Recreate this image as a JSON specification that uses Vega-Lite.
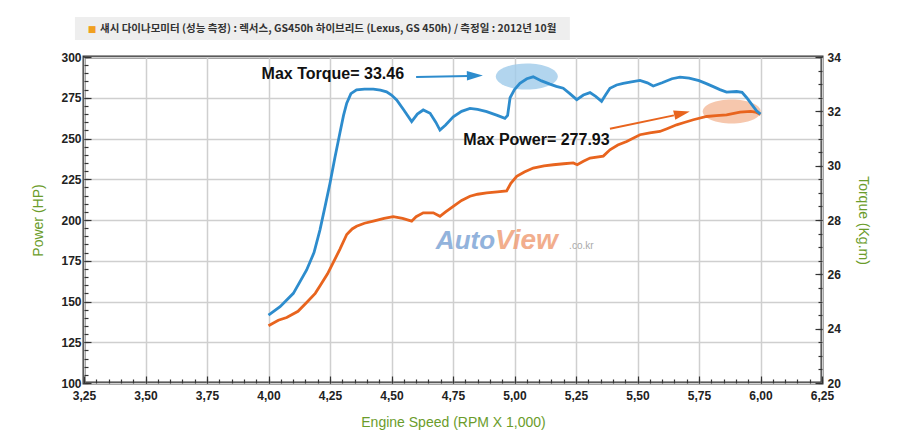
{
  "$schema": "https://vega.github.io/schema/vega-lite/v6.json",
  "autosize": "none",
  "width": 738,
  "height": 326,
  "padding": {"left": 84, "top": 57, "right": 78, "bottom": 53},
  "background": "white",
  "config": {
    "view": {"stroke": "#333333", "strokeWidth": 3},
    "axis": {
      "domain": false,
      "tickColor": "#333333",
      "tickWidth": 1.2,
      "labelFont": "Liberation Sans",
      "labelFontSize": 12,
      "labelFontWeight": "bold",
      "labelColor": "#222222",
      "labelOverlap": false,
      "labelBound": false,
      "labelFlush": false,
      "titleFont": "Liberation Sans",
      "titleFontSize": 14,
      "titleFontWeight": "normal",
      "titleColor": "#6b9c2b",
      "gridColor": "#cfcfcf",
      "gridWidth": 1.5
    }
  },
  "datasets": {
    "power": [
      {"rpm": 4.00, "hp": 135.1}, {"rpm": 4.04, "hp": 138.5}, {"rpm": 4.074, "hp": 140.2},
      {"rpm": 4.12, "hp": 144.0}, {"rpm": 4.155, "hp": 149.4}, {"rpm": 4.19, "hp": 155.0},
      {"rpm": 4.209, "hp": 159.5}, {"rpm": 4.24, "hp": 167.0}, {"rpm": 4.263, "hp": 173.8},
      {"rpm": 4.29, "hp": 182.0}, {"rpm": 4.318, "hp": 191.1}, {"rpm": 4.34, "hp": 194.5},
      {"rpm": 4.358, "hp": 196.2}, {"rpm": 4.39, "hp": 198.0}, {"rpm": 4.426, "hp": 199.3},
      {"rpm": 4.47, "hp": 201.0}, {"rpm": 4.507, "hp": 202.0}, {"rpm": 4.545, "hp": 201.0},
      {"rpm": 4.582, "hp": 199.3}, {"rpm": 4.60, "hp": 202.0}, {"rpm": 4.629, "hp": 204.4},
      {"rpm": 4.67, "hp": 204.4}, {"rpm": 4.697, "hp": 202.3}, {"rpm": 4.72, "hp": 205.0},
      {"rpm": 4.751, "hp": 208.4}, {"rpm": 4.785, "hp": 212.0}, {"rpm": 4.819, "hp": 214.6},
      {"rpm": 4.85, "hp": 215.8}, {"rpm": 4.887, "hp": 216.6}, {"rpm": 4.93, "hp": 217.2},
      {"rpm": 4.968, "hp": 217.8}, {"rpm": 4.985, "hp": 222.5}, {"rpm": 5.009, "hp": 226.8},
      {"rpm": 5.04, "hp": 229.5}, {"rpm": 5.076, "hp": 231.9}, {"rpm": 5.12, "hp": 233.2},
      {"rpm": 5.158, "hp": 233.9}, {"rpm": 5.2, "hp": 234.5}, {"rpm": 5.239, "hp": 235.0},
      {"rpm": 5.255, "hp": 233.9}, {"rpm": 5.28, "hp": 236.0}, {"rpm": 5.307, "hp": 238.0},
      {"rpm": 5.361, "hp": 239.2}, {"rpm": 5.388, "hp": 243.1}, {"rpm": 5.42, "hp": 246.0},
      {"rpm": 5.456, "hp": 248.2}, {"rpm": 5.51, "hp": 252.3}, {"rpm": 5.55, "hp": 253.5},
      {"rpm": 5.591, "hp": 254.3}, {"rpm": 5.62, "hp": 256.0}, {"rpm": 5.659, "hp": 258.4},
      {"rpm": 5.69, "hp": 259.8}, {"rpm": 5.727, "hp": 261.5}, {"rpm": 5.781, "hp": 263.5},
      {"rpm": 5.82, "hp": 264.0}, {"rpm": 5.862, "hp": 264.5}, {"rpm": 5.917, "hp": 266.2},
      {"rpm": 5.96, "hp": 266.6}, {"rpm": 5.98, "hp": 266.2}, {"rpm": 6.00, "hp": 264.8}
    ],
    "torque": [
      {"rpm": 4.00, "t": 24.50}, {"rpm": 4.047, "t": 24.81}, {"rpm": 4.101, "t": 25.30},
      {"rpm": 4.155, "t": 26.16}, {"rpm": 4.185, "t": 26.8}, {"rpm": 4.209, "t": 27.63},
      {"rpm": 4.23, "t": 28.5}, {"rpm": 4.25, "t": 29.35}, {"rpm": 4.27, "t": 30.3},
      {"rpm": 4.29, "t": 31.19}, {"rpm": 4.305, "t": 31.85}, {"rpm": 4.318, "t": 32.30},
      {"rpm": 4.335, "t": 32.65}, {"rpm": 4.358, "t": 32.79}, {"rpm": 4.39, "t": 32.82},
      {"rpm": 4.426, "t": 32.82}, {"rpm": 4.455, "t": 32.78}, {"rpm": 4.48, "t": 32.72},
      {"rpm": 4.50, "t": 32.6}, {"rpm": 4.521, "t": 32.42}, {"rpm": 4.55, "t": 32.05},
      {"rpm": 4.582, "t": 31.62}, {"rpm": 4.605, "t": 31.9}, {"rpm": 4.629, "t": 32.05},
      {"rpm": 4.657, "t": 31.93}, {"rpm": 4.68, "t": 31.6}, {"rpm": 4.697, "t": 31.31},
      {"rpm": 4.72, "t": 31.5}, {"rpm": 4.751, "t": 31.80}, {"rpm": 4.785, "t": 32.0},
      {"rpm": 4.819, "t": 32.11}, {"rpm": 4.85, "t": 32.07}, {"rpm": 4.887, "t": 31.99},
      {"rpm": 4.93, "t": 31.85}, {"rpm": 4.961, "t": 31.74}, {"rpm": 4.972, "t": 31.85},
      {"rpm": 4.982, "t": 32.5}, {"rpm": 5.0, "t": 32.8}, {"rpm": 5.022, "t": 33.03},
      {"rpm": 5.05, "t": 33.2}, {"rpm": 5.076, "t": 33.27}, {"rpm": 5.11, "t": 33.12},
      {"rpm": 5.144, "t": 33.0}, {"rpm": 5.17, "t": 32.92}, {"rpm": 5.198, "t": 32.85},
      {"rpm": 5.225, "t": 32.65}, {"rpm": 5.253, "t": 32.43}, {"rpm": 5.28, "t": 32.6},
      {"rpm": 5.307, "t": 32.69}, {"rpm": 5.33, "t": 32.55}, {"rpm": 5.354, "t": 32.37},
      {"rpm": 5.37, "t": 32.6}, {"rpm": 5.388, "t": 32.85}, {"rpm": 5.415, "t": 32.97},
      {"rpm": 5.442, "t": 33.03}, {"rpm": 5.475, "t": 33.08}, {"rpm": 5.51, "t": 33.14},
      {"rpm": 5.54, "t": 33.05}, {"rpm": 5.564, "t": 32.93}, {"rpm": 5.6, "t": 33.05},
      {"rpm": 5.64, "t": 33.2}, {"rpm": 5.673, "t": 33.26}, {"rpm": 5.71, "t": 33.22},
      {"rpm": 5.75, "t": 33.13}, {"rpm": 5.78, "t": 33.02}, {"rpm": 5.808, "t": 32.91},
      {"rpm": 5.835, "t": 32.8}, {"rpm": 5.862, "t": 32.71}, {"rpm": 5.903, "t": 32.73},
      {"rpm": 5.925, "t": 32.7}, {"rpm": 5.944, "t": 32.5}, {"rpm": 5.965, "t": 32.25},
      {"rpm": 5.984, "t": 32.02}, {"rpm": 6.00, "t": 31.9}
    ]
  },
  "layer": [
    {
      "data": {"values": [{"x1": 3.213, "x2": 5.225, "y1": 310.4, "y2": 324.5}]},
      "mark": {"type": "rect", "fill": "#eeeeee"},
      "encoding": {
        "x": {"field": "x1", "type": "quantitative", "scale": {"domain": [3.25, 6.25], "nice": false, "zero": false},
          "axis": {"orient": "bottom", "title": null, "labels": false, "grid": false, "offset": -4, "tickSize": 4,
            "values": [3.25,3.3,3.35,3.4,3.45,3.5,3.55,3.6,3.65,3.7,3.75,3.8,3.85,3.9,3.95,4,4.05,4.1,4.15,4.2,4.25,4.3,4.35,4.4,4.45,4.5,4.55,4.6,4.65,4.7,4.75,4.8,4.85,4.9,4.95,5,5.05,5.1,5.15,5.2,5.25,5.3,5.35,5.4,5.45,5.5,5.55,5.6,5.65,5.7,5.75,5.8,5.85,5.9,5.95,6,6.05,6.1,6.15,6.2,6.25]}},
        "x2": {"field": "x2"},
        "y": {"field": "y1", "type": "quantitative", "scale": {"domain": [100, 300], "nice": false, "zero": false},
          "axis": {"orient": "left", "title": null, "labels": false, "grid": false, "offset": -4, "tickSize": 4,
            "values": [100,105,110,115,120,125,130,135,140,145,150,155,160,165,170,175,180,185,190,195,200,205,210,215,220,225,230,235,240,245,250,255,260,265,270,275,280,285,290,295,300]}},
        "y2": {"field": "y2"}
      }
    },
    {
      "data": {"values": [{"x": 3.283, "y": 317.4, "text": "■"}]},
      "mark": {"type": "text", "color": "#f0a020", "fontSize": 9, "align": "center", "baseline": "middle", "font": "DejaVu Sans"},
      "encoding": {
        "x": {"field": "x", "type": "quantitative", "scale": {"domain": [3.25, 6.25], "nice": false, "zero": false}, "axis": null},
        "y": {"field": "y", "type": "quantitative", "scale": {"domain": [100, 300], "nice": false, "zero": false}, "axis": null},
        "text": {"field": "text"}
      }
    },
    {
      "data": {"values": [{"x": 3.315, "y": 317.4, "text": "섀시 다이나모미터 (성능 측정) : 렉서스, GS450h 하이브리드 (Lexus, GS 450h) / 측정일 : 2012년 10월"}]},
      "mark": {"type": "text", "color": "#333333", "fontSize": 10.5, "fontWeight": "bold", "align": "left", "baseline": "middle", "font": "Noto Sans CJK KR"},
      "encoding": {
        "x": {"field": "x", "type": "quantitative", "scale": {"domain": [3.25, 6.25], "nice": false, "zero": false}, "axis": null},
        "y": {"field": "y", "type": "quantitative", "scale": {"domain": [100, 300], "nice": false, "zero": false}, "axis": null},
        "text": {"field": "text"}
      }
    },
    {
      "data": {"values": [{"x": 4.921, "y": 182, "text": "Auto"}]},
      "mark": {"type": "text", "color": "#7fa6d6", "opacity": 0.85, "fontSize": 26, "fontWeight": "bold", "fontStyle": "italic", "align": "right", "baseline": "alphabetic", "font": "Liberation Sans"},
      "encoding": {
        "x": {"field": "x", "type": "quantitative", "scale": {"domain": [3.25, 6.25], "nice": false, "zero": false}, "axis": null},
        "y": {"field": "y", "type": "quantitative", "scale": {"domain": [100, 300], "nice": false, "zero": false}, "axis": null},
        "text": {"field": "text"}
      }
    },
    {
      "data": {"values": [{"x": 4.921, "y": 182, "text": "View"}]},
      "mark": {"type": "text", "color": "#f0a07a", "opacity": 0.85, "fontSize": 28, "fontWeight": "bold", "fontStyle": "italic", "align": "left", "baseline": "alphabetic", "font": "Liberation Sans"},
      "encoding": {
        "x": {"field": "x", "type": "quantitative", "scale": {"domain": [3.25, 6.25], "nice": false, "zero": false}, "axis": null},
        "y": {"field": "y", "type": "quantitative", "scale": {"domain": [100, 300], "nice": false, "zero": false}, "axis": null},
        "text": {"field": "text"}
      }
    },
    {
      "data": {"values": [{"x": 5.222, "y": 182, "text": ".co.kr"}]},
      "mark": {"type": "text", "color": "#aaaaaa", "fontSize": 10, "align": "left", "baseline": "alphabetic", "font": "Liberation Sans"},
      "encoding": {
        "x": {"field": "x", "type": "quantitative", "scale": {"domain": [3.25, 6.25], "nice": false, "zero": false}, "axis": null},
        "y": {"field": "y", "type": "quantitative", "scale": {"domain": [100, 300], "nice": false, "zero": false}, "axis": null},
        "text": {"field": "text"}
      }
    },
    {
      "data": {"values": [{"x": 5.05, "y": 288.0}]},
      "mark": {"type": "point", "shape": "M-1,0A1,0.42,0,1,1,1,0A1,0.42,0,1,1,-1,0Z", "filled": true, "size": 3844, "color": "#9fcbea", "opacity": 0.8, "strokeWidth": 0},
      "encoding": {
        "x": {"field": "x", "type": "quantitative", "scale": {"domain": [3.25, 6.25], "nice": false, "zero": false}, "axis": null},
        "y": {"field": "y", "type": "quantitative", "scale": {"domain": [100, 300], "nice": false, "zero": false}, "axis": null}
      }
    },
    {
      "data": {"values": [{"x": 5.883, "y": 266.5}]},
      "mark": {"type": "point", "shape": "M-1,0A1,0.414,0,1,1,1,0A1,0.414,0,1,1,-1,0Z", "filled": true, "size": 3364, "color": "#f5bd9f", "opacity": 0.85, "strokeWidth": 0},
      "encoding": {
        "x": {"field": "x", "type": "quantitative", "scale": {"domain": [3.25, 6.25], "nice": false, "zero": false}, "axis": null},
        "y": {"field": "y", "type": "quantitative", "scale": {"domain": [100, 300], "nice": false, "zero": false}, "axis": null}
      }
    },
    {
      "data": {"name": "power"},
      "mark": {"type": "line", "color": "#e8641e", "strokeWidth": 2.8},
      "encoding": {
        "x": {
          "field": "rpm", "type": "quantitative",
          "scale": {"domain": [3.25, 6.25], "nice": false, "zero": false},
          "axis": {
            "orient": "bottom",
            "title": "Engine Speed (RPM X 1,000)",
            "values": [3.25,3.5,3.75,4,4.25,4.5,4.75,5,5.25,5.5,5.75,6,6.25],
            "labelExpr": "replace(format(datum.value, '.2f'), '.', ',')",
            "grid": true,
            "offset": -7,
            "tickSize": 7,
            "labelPadding": 7,
            "titlePadding": 14
          }
        },
        "y": {
          "field": "hp", "type": "quantitative",
          "scale": {"domain": [100, 300], "nice": false, "zero": false},
          "axis": {
            "title": "Power (HP)",
            "orient": "left",
            "values": [100,125,150,175,200,225,250,275,300],
            "grid": true,
            "offset": -7,
            "tickSize": 7,
            "labelPadding": 3,
            "titlePadding": 15
          }
        }
      }
    },
    {
      "data": {"values": [{"x": 4.600, "y": 287.8, "x2": 4.815, "y2": 288.4}]},
      "mark": {"type": "rule", "color": "#2d8ccd", "strokeWidth": 2},
      "encoding": {
        "x": {"field": "x", "type": "quantitative", "scale": {"domain": [3.25, 6.25], "nice": false, "zero": false}, "axis": null},
        "y": {"field": "y", "type": "quantitative", "scale": {"domain": [100, 300], "nice": false, "zero": false}, "axis": null},
        "x2": {"field": "x2"},
        "y2": {"field": "y2"}
      }
    },
    {
      "data": {"values": [{"x": 4.839, "y": 288.6}]},
      "mark": {"type": "point", "shape": "M-1,-0.6L1,0L-1,0.6Z", "filled": true, "size": 256, "color": "#2d8ccd", "opacity": 1, "angle": 359, "strokeWidth": 0},
      "encoding": {
        "x": {"field": "x", "type": "quantitative", "scale": {"domain": [3.25, 6.25], "nice": false, "zero": false}, "axis": null},
        "y": {"field": "y", "type": "quantitative", "scale": {"domain": [100, 300], "nice": false, "zero": false}, "axis": null}
      }
    },
    {
      "data": {"values": [{"x": 5.388, "y": 256.0, "x2": 5.648, "y2": 264.2}]},
      "mark": {"type": "rule", "color": "#e8641e", "strokeWidth": 2},
      "encoding": {
        "x": {"field": "x", "type": "quantitative", "scale": {"domain": [3.25, 6.25], "nice": false, "zero": false}, "axis": null},
        "y": {"field": "y", "type": "quantitative", "scale": {"domain": [100, 300], "nice": false, "zero": false}, "axis": null},
        "x2": {"field": "x2"},
        "y2": {"field": "y2"}
      }
    },
    {
      "data": {"values": [{"x": 5.681, "y": 265.4}]},
      "mark": {"type": "point", "shape": "M-1,-0.6L1,0L-1,0.6Z", "filled": true, "size": 256, "color": "#e8641e", "opacity": 1, "angle": 347, "strokeWidth": 0},
      "encoding": {
        "x": {"field": "x", "type": "quantitative", "scale": {"domain": [3.25, 6.25], "nice": false, "zero": false}, "axis": null},
        "y": {"field": "y", "type": "quantitative", "scale": {"domain": [100, 300], "nice": false, "zero": false}, "axis": null}
      }
    },
    {
      "data": {"values": [{"x": 3.972, "y": 289.6, "text": "Max Torque= 33.46"}, {"x": 4.792, "y": 249.2, "text": "Max Power= 277.93"}]},
      "mark": {"type": "text", "color": "#111111", "fontSize": 16, "fontWeight": "bold", "align": "left", "baseline": "middle", "font": "Liberation Sans"},
      "encoding": {
        "x": {"field": "x", "type": "quantitative", "scale": {"domain": [3.25, 6.25], "nice": false, "zero": false}, "axis": null},
        "y": {"field": "y", "type": "quantitative", "scale": {"domain": [100, 300], "nice": false, "zero": false}, "axis": null},
        "text": {"field": "text"}
      }
    },
    {
      "data": {"name": "torque"},
      "mark": {"type": "line", "color": "#2d8ccd", "opacity": 0},
      "encoding": {
        "x": {"field": "rpm", "type": "quantitative", "scale": {"domain": [3.25, 6.25], "nice": false, "zero": false}, "axis": null},
        "y": {
          "field": "t", "type": "quantitative",
          "scale": {"domain": [22, 34], "nice": false, "zero": false},
          "axis": {"orient": "right", "title": null, "labels": false, "grid": false, "offset": -4, "tickSize": 4,
            "values": [22,22.5,23,23.5,24,24.5,25,25.5,26,26.5,27,27.5,28,28.5,29,29.5,30,30.5,31,31.5,32,32.5,33,33.5,34]}
        }
      }
    },
    {
      "data": {"name": "torque"},
      "mark": {"type": "line", "color": "#2d8ccd", "strokeWidth": 2.8},
      "encoding": {
        "x": {"field": "rpm", "type": "quantitative", "scale": {"domain": [3.25, 6.25], "nice": false, "zero": false}, "axis": null},
        "y": {
          "field": "t", "type": "quantitative",
          "scale": {"domain": [22, 34], "nice": false, "zero": false},
          "axis": {
            "title": "Torque (Kg.m)",
            "orient": "right",
            "grid": false,
            "values": [22,24,26,28,30,32,34],
            "labelExpr": "datum.value === 22 ? '20' : datum.label",
            "offset": -7,
            "tickSize": 7,
            "labelPadding": 5,
            "titlePadding": 15
          }
        }
      }
    }
  ],
  "resolve": {"scale": {"y": "independent"}, "axis": {"x": "independent", "y": "independent"}}
}
